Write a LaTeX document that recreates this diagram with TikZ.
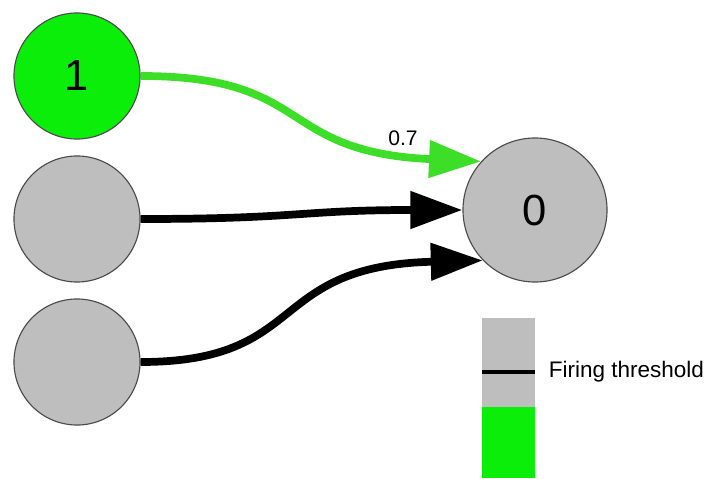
\documentclass[tikz,border=0pt]{standalone}
\usepackage{fontspec}
\setmainfont{Liberation Sans}
\usepackage{xcolor}
\usetikzlibrary{arrows.meta}
\definecolor{fired}{RGB}{10,238,10}
\definecolor{spike}{RGB}{60,222,40}
\definecolor{rest}{RGB}{190,190,190}
\tikzset{
	neuron/.style={circle,draw=black!70,fill=rest,line width=0.8pt,inner sep=0pt},
	synapse/.style={line width=5.5pt,-{Triangle[length=1.3cm,width=0.9cm]}},
	weight/.style={font=\fontsize{15}{18}\selectfont}
}

\begin{document}
\begin{tikzpicture}[x=0.025cm,y=-0.025cm]
		\useasboundingbox (0,0) rectangle (707,478);
		% input layer
		\node[neuron,fill=fired,minimum size=3.15cm,font=\fontsize{31}{36}\selectfont] (in1) at (77,76) {1};
		\node[neuron,minimum size=3.15cm] (in2) at (77,219) {};
		\node[neuron,minimum size=3.15cm] (in3) at (77,362) {};
		% output neuron
		\node[neuron,minimum size=3.6cm,font=\fontsize{31}{36}\selectfont] (out) at (535,210) {0};
		% connections
		\draw[synapse,draw=spike] (in1.east) .. controls (315,76) and (275,152) .. (out.138);
		\node[weight] (w1) at (403,138) {0.7};
		\draw[synapse] (in2.east) .. controls (300,219) and (300,210) .. (out.west);
		\draw[synapse] (in3.east) .. controls (310,362) and (265,266) .. (out.224);
		% threshold gauge
		\fill[rest] (482,318) rectangle (535,407);
		\fill[fired] (482,407) rectangle (535,478);
		\coordinate (thl) at (482,372);
		\coordinate (thr) at (535,372);
		\draw[line width=2.2pt] (thl) -- (thr);
		\node[anchor=west,font=\fontsize{16}{18}\selectfont] (thlabel) at (544,372) {Firing threshold};
		\end{tikzpicture}
\end{document}
